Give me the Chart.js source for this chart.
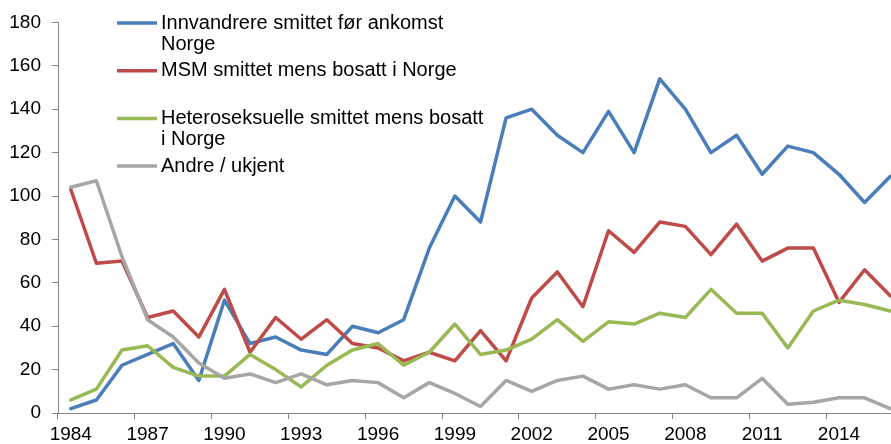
<!DOCTYPE html>
<html>
<head>
<meta charset="utf-8">
<script src="https://cdn.jsdelivr.net/npm/chart.js@4"></script>
<style>
  html, body { margin: 0; padding: 0; background: #fff; overflow: hidden; }
  #wrap { width: 904px; height: 444px; }
</style>
</head>
<body>
<div id="wrap"><canvas id="hiv" width="904" height="444"></canvas></div>
<script>
// years on the category axis
var years = [
  '1984','1985','1986','1987','1988','1989','1990','1991','1992','1993','1994',
  '1995','1996','1997','1998','1999','2000','2001','2002','2003','2004','2005',
  '2006','2007','2008','2009','2010','2011','2012','2013','2014','2015','2016'
];
// only every third year gets a label
var shownYears = ['1984','1987','1990','1993','1996','1999','2002','2005','2008','2011','2014'];

var innvandrere = [2,6,22,27,32,15,52, 32,35,29,27,40,37, 43,76,100,88,136,140,128, 120,139,120,154,140,120, 128,110,123,120,110,97,109];
var msm = [103,69,70,44,47,35,57, 28,44,34,43,32,30, 24,28,24,38,24,53,65, 49,84,74,88,86,73, 87,70,76,76,51,66,54];
var hetero = [6,11,29,31,21,17,17, 27,20,12,22,29,32, 22,28,41,27,29,34,43, 33,42,41,46,44,57, 46,46,30,47,52,50,47];
var andre = [104,107,72,43,35,23,16, 18,14,18,13,15,14, 7,14,9,3,15,10,15, 17,11,13,11,13,7, 7,16,4,5,7,7,2];

var seriesNames = [
  'Innvandrere smittet før ankomst Norge',
  'MSM smittet mens bosatt i Norge',
  'Heteroseksuelle smittet mens bosatt i Norge',
  'Andre / ukjent'
];
// how the legend text wraps in the original
var legendLines = [
  ['Innvandrere smittet før ankomst', 'Norge'],
  ['MSM smittet mens bosatt i Norge'],
  ['Heteroseksuelle smittet mens bosatt', 'i Norge'],
  ['Andre / ukjent']
];

var yTicks = [0, 20, 40, 60, 80, 100, 120, 140, 160, 180];

var axisGrey = '#868686';
var fontFam = '"Liberation Sans", Arial, sans-serif';

// legend drawn by hand so the labels can wrap like the excel one
var wrapLegend = {
  id: 'wrapLegend',
  afterDraw: function(chart) {
    var ctx = chart.ctx;
    var x0 = chart.chartArea.left + 59;
    ctx.save();
    ctx.font = '20px ' + fontFam;
    ctx.textBaseline = 'middle';
    ctx.textAlign = 'left';
    ctx.fillStyle = '#000';
    chart.data.datasets.forEach(function(ds, i) {
      var y = 23 + i * 47.7;
      ctx.strokeStyle = ds.borderColor;
      ctx.lineWidth = 3.5;
      ctx.beginPath();
      ctx.moveTo(x0, y);
      ctx.lineTo(x0 + 40, y);
      ctx.stroke();
      legendLines[i].forEach(function(t, j) {
        ctx.fillText(t, x0 + 44, y + j * 21);
      });
    });
    ctx.restore();
  }
};

function line(label, data, color, order) {
  return {
    label: label,
    data: data,
    borderColor: color,
    backgroundColor: color,
    borderWidth: 3.5,
    pointRadius: 0,
    tension: 0,
    borderJoinStyle: 'round',
    borderCapStyle: 'round',
    order: order
  };
}

var ctx = document.getElementById('hiv').getContext('2d');
var chart = new Chart(ctx, {
  type: 'line',
  data: {
    labels: years,
    datasets: [
      line(seriesNames[0], innvandrere, '#4A7EBB', 3),
      line(seriesNames[1], msm, '#BE4B48', 2),
      line(seriesNames[2], hetero, '#98B954', 1),
      line(seriesNames[3], andre, '#A6A6A6', 0)
    ]
  },
  options: {
    responsive: false,
    animation: false,
    layout: { padding: { top: 17, right: 1, left: 0, bottom: 0 } },
    plugins: {
      legend: { display: false },
      tooltip: { enabled: false }
    },
    scales: {
      x: {
        offset: true,
        grid: {
          display: true,
          drawOnChartArea: false,
          offset: true,
          tickLength: 6,
          tickColor: function(c) { return c.index % 3 === 0 ? axisGrey : 'rgba(0,0,0,0)'; }
        },
        border: { display: true, color: axisGrey, width: 1 },
        ticks: {
          autoSkip: false,
          maxRotation: 0,
          minRotation: 0,
          padding: 4,
          color: '#000',
          font: { family: fontFam, size: 19 },
          callback: function(v, i) {
            var y = years[i];
            return shownYears.indexOf(y) >= 0 ? y : '';
          }
        },
        afterFit: function(s) { s.height = 31; }
      },
      y: {
        min: 0,
        max: 180,
        grid: {
          display: true,
          drawOnChartArea: false,
          tickLength: 6,
          tickColor: axisGrey
        },
        border: { display: true, color: axisGrey, width: 1 },
        afterBuildTicks: function(s) {
          s.ticks = yTicks.map(function(v) { return { value: v }; });
        },
        ticks: {
          padding: 11,
          color: '#000',
          font: { family: fontFam, size: 19 }
        },
        afterFit: function(s) { s.width = 58; }
      }
    }
  },
  plugins: [wrapLegend]
});
</script>
</body>
</html>
